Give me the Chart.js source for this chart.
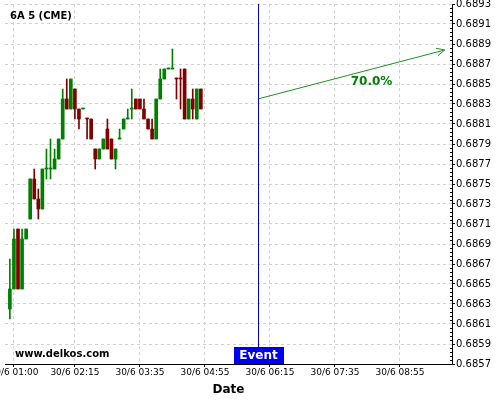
<!DOCTYPE html>
<html>
<head>
<meta charset="utf-8">
<script src="https://cdn.jsdelivr.net/npm/chart.js@4.4.0/dist/chart.umd.min.js"></script>
<style>
  html, body { margin: 0; padding: 0; background: #fff; }
</style>
</head>
<body>
<canvas id="myChart" width="500" height="400"></canvas>
<script>
// 5 minute candles, 30/6
const candleTimes = [
  '00:55', '01:00', '01:05', '01:10', '01:15', '01:20', '01:25', '01:30',
  '01:35', '01:40', '01:45', '01:50', '01:55', '02:00', '02:05', '02:10',
  '02:15', '02:20', '02:25', '02:30', '02:35', '02:40', '02:45', '02:50',
  '02:55', '03:00', '03:05', '03:10', '03:15', '03:20', '03:25', '03:30',
  '03:35', '03:40', '03:45', '03:50', '03:55', '04:00', '04:05', '04:10',
  '04:15', '04:20', '04:25', '04:30', '04:35', '04:40', '04:45', '04:50'
];
const opens = [
  0.68625, 0.68645, 0.68705, 0.68645, 0.68695, 0.68715, 0.68755, 0.68735,
  0.68725, 0.68765, 0.68765, 0.68765, 0.68775, 0.68795, 0.68835, 0.68825,
  0.68845, 0.68825, 0.68825, 0.68816, 0.68815, 0.68785, 0.68775, 0.68785,
  0.68805, 0.68795, 0.68775, 0.68795, 0.68805, 0.68815, 0.68825, 0.68835,
  0.68835, 0.68825, 0.68815, 0.68805, 0.68795, 0.68835, 0.68855, 0.68865,
  0.68865, 0.68856, 0.68856, 0.68865, 0.68815, 0.68835, 0.68815, 0.68845
];
const highs = [
  0.68675, 0.68705, 0.68705, 0.68705, 0.68705, 0.68755, 0.68765, 0.68745,
  0.68765, 0.68785, 0.68795, 0.68785, 0.68795, 0.68845, 0.68855, 0.68855,
  0.68845, 0.68825, 0.68826, 0.68816, 0.68815, 0.68785, 0.68785, 0.68795,
  0.68815, 0.68795, 0.68785, 0.68805, 0.68815, 0.68825, 0.68845, 0.68835,
  0.68835, 0.68835, 0.68815, 0.68815, 0.68835, 0.68865, 0.68865, 0.68866,
  0.68885, 0.68856, 0.68865, 0.68865, 0.68835, 0.68845, 0.68845, 0.68845
];
const lows = [
  0.68615, 0.68645, 0.68645, 0.68645, 0.68695, 0.68715, 0.68735, 0.68715,
  0.68725, 0.68755, 0.68755, 0.68765, 0.68775, 0.68795, 0.68825, 0.68825,
  0.68815, 0.68805, 0.68825, 0.68795, 0.68795, 0.68765, 0.68775, 0.68785,
  0.68785, 0.68775, 0.68765, 0.68795, 0.68805, 0.68815, 0.68815, 0.68825,
  0.68825, 0.68815, 0.68805, 0.68795, 0.68795, 0.68835, 0.68855, 0.68865,
  0.68865, 0.68835, 0.68825, 0.68815, 0.68815, 0.68815, 0.68815, 0.68825
];
const closes = [
  0.68645, 0.68695, 0.68645, 0.68695, 0.68705, 0.68755, 0.68735, 0.68725,
  0.68765, 0.68766, 0.68766, 0.68775, 0.68795, 0.68835, 0.68825, 0.68855,
  0.68825, 0.68815, 0.68826, 0.68815, 0.68795, 0.68775, 0.68785, 0.68795,
  0.68785, 0.68775, 0.68785, 0.68796, 0.68815, 0.68816, 0.68826, 0.68825,
  0.68825, 0.68815, 0.68805, 0.68795, 0.68835, 0.68855, 0.68865, 0.68866,
  0.68866, 0.68855, 0.68855, 0.68815, 0.68835, 0.68825, 0.68845, 0.68825
];

const xTickTimes = ['01:00', '02:15', '03:35', '04:55', '06:15', '07:35', '08:55'];
const yTickValues = [
  0.6857, 0.6859, 0.6861, 0.6863, 0.6865, 0.6867, 0.6869, 0.6871, 0.6873, 0.6875,
  0.6877, 0.6879, 0.6881, 0.6883, 0.6885, 0.6887, 0.6889, 0.6891, 0.6893
];

const eventTime = '06:00';
const arrowStart = { time: '06:00', price: 0.68835 };
const arrowEnd = { time: '09:50', price: 0.68884 };
const probLabel = { text: '70.0%', time: '08:20', price: 0.68852 };

const GREEN = '#008000';
const RED = '#800000';

function toMin(s) {
  const p = s.split(':');
  return Number(p[0]) * 60 + Number(p[1]);
}
function fmtTime(m) {
  const h = Math.floor(m / 60), mm = m % 60;
  return '30/6 ' + String(h).padStart(2, '0') + ':' + String(mm).padStart(2, '0');
}

const colors = opens.map((o, i) => closes[i] >= o ? GREEN : RED);

Chart.defaults.font.family = 'DejaVu Sans';
Chart.defaults.color = '#000';

const overlay = {
  id: 'overlay',
  afterDatasetsDraw(chart) {
    const { ctx, chartArea, scales: { x, y } } = chart;
    ctx.save();

    // minor ticks on the price axis (5 per grid step)
    ctx.strokeStyle = '#000';
    ctx.lineWidth = 1;
    ctx.beginPath();
    for (let i = 0; i < yTickValues.length - 1; i++) {
      const step = (yTickValues[i + 1] - yTickValues[i]) / 5;
      for (let k = 1; k < 5; k++) {
        const py = Math.round(y.getPixelForValue(yTickValues[i] + k * step)) + 0.5;
        ctx.moveTo(chartArea.right - 2, py);
        ctx.lineTo(chartArea.right, py);
      }
    }
    ctx.stroke();

    // event marker
    const ex = Math.round(x.getPixelForValue(toMin(eventTime))) + 0.5;
    const boxH = 17, boxW = 50;
    ctx.strokeStyle = '#0000cc';
    ctx.beginPath();
    ctx.moveTo(ex, chartArea.top);
    ctx.lineTo(ex, chartArea.bottom - boxH);
    ctx.stroke();
    ctx.fillStyle = '#0000ee';
    ctx.fillRect(Math.round(ex - boxW / 2), chartArea.bottom - boxH, boxW, boxH);
    ctx.fillStyle = '#fff';
    ctx.font = 'bold 12px "DejaVu Sans"';
    ctx.textAlign = 'center';
    ctx.textBaseline = 'middle';
    ctx.fillText('Event', ex, chartArea.bottom - boxH / 2);

    // arrow head
    const x1 = x.getPixelForValue(toMin(arrowStart.time)), y1 = y.getPixelForValue(arrowStart.price);
    const x2 = x.getPixelForValue(toMin(arrowEnd.time)), y2 = y.getPixelForValue(arrowEnd.price);
    const ang = Math.atan2(y2 - y1, x2 - x1);
    ctx.strokeStyle = '#1f911f';
    ctx.beginPath();
    ctx.moveTo(x2 - 9 * Math.cos(ang - 0.45), y2 - 9 * Math.sin(ang - 0.45));
    ctx.lineTo(x2, y2);
    ctx.lineTo(x2 - 9 * Math.cos(ang + 0.45), y2 - 9 * Math.sin(ang + 0.45));
    ctx.stroke();

    ctx.fillStyle = '#008000';
    ctx.font = 'bold 12px "DejaVu Sans"';
    ctx.fillText(probLabel.text, x.getPixelForValue(toMin(probLabel.time)), y.getPixelForValue(probLabel.price));

    // title and watermark
    ctx.fillStyle = '#000';
    ctx.textAlign = 'left';
    ctx.font = 'bold 10px "DejaVu Sans"';
    ctx.fillText('6A 5 (CME)', chartArea.left + 5, chartArea.top + 12);
    ctx.fillText('www.delkos.com', chartArea.left + 10, chartArea.bottom - 10);
    ctx.restore();
  }
};

new Chart(document.getElementById('myChart'), {
  type: 'bar',
  data: {
    datasets: [
      {
        label: 'wick',
        data: candleTimes.map((t, i) => ({ x: toMin(t), y: [lows[i], highs[i]] })),
        backgroundColor: colors,
        barThickness: 1,
        grouped: false,
        order: 2
      },
      {
        label: 'body',
        data: candleTimes.map((t, i) => ({ x: toMin(t), y: [opens[i], closes[i]] })),
        backgroundColor: colors,
        barThickness: 3,
        minBarLength: 1,
        grouped: false,
        order: 1
      },
      {
        type: 'line',
        label: 'forecast',
        data: [
          { x: toMin(arrowStart.time), y: arrowStart.price },
          { x: toMin(arrowEnd.time), y: arrowEnd.price }
        ],
        borderColor: '#1f911f',
        borderWidth: 1,
        pointRadius: 0,
        order: 0
      }
    ]
  },
  options: {
    responsive: false,
    animation: false,
    layout: { padding: { left: 5, top: 4, right: 0, bottom: 0 } },
    plugins: { legend: { display: false }, tooltip: { enabled: false } },
    scales: {
      x: {
        type: 'linear',
        min: 49,
        max: 599,
        offset: false,
        afterBuildTicks: s => { s.ticks = xTickTimes.map(t => ({ value: toMin(t) })); },
        afterFit: s => { s.height = 36; s.paddingLeft = 0; s.paddingRight = 0; },
        ticks: {
          autoSkip: false,
          maxRotation: 0,
          padding: 0,
          font: { size: 9 },
          callback: v => fmtTime(v)
        },
        grid: {
          offset: false,
          color: '#d0d0d0',
          tickColor: '#000',
          tickLength: 3,
          tickBorderDash: []
        },
        border: { display: true, color: '#000', width: 1, dash: [3, 3] },
        title: {
          display: true,
          text: 'Date',
          font: { size: 12, weight: 'bold' },
          padding: { top: 0, bottom: 3 }
        }
      },
      y: {
        position: 'right',
        min: 0.6857,
        max: 0.6893,
        beginAtZero: false,
        afterBuildTicks: s => { s.ticks = yTickValues.map(v => ({ value: v })); },
        afterFit: s => { s.width = 48; s.paddingTop = 0; s.paddingBottom = 0; },
        ticks: {
          padding: 1,
          font: { size: 10 },
          callback: v => v.toFixed(4)
        },
        grid: {
          color: '#d0d0d0',
          tickColor: '#000',
          tickLength: 3,
          tickBorderDash: []
        },
        border: { display: true, color: '#000', width: 1, dash: [3, 3] }
      }
    }
  },
  plugins: [overlay]
});
</script>
</body>
</html>
